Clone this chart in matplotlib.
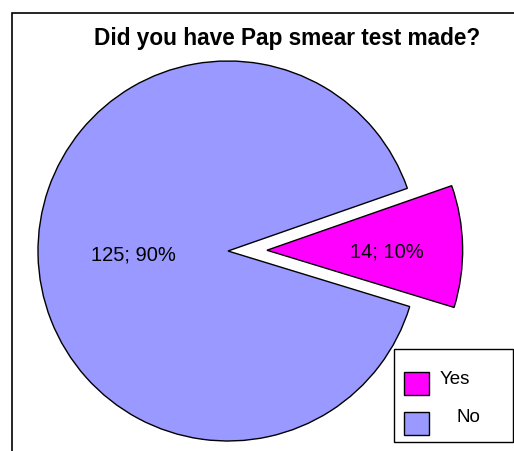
import numpy as np
import matplotlib.pyplot as plt
from matplotlib.patches import Rectangle

plt.rcParams['font.family'] = ['Liberation Sans', 'DejaVu Sans']

# data
categories = ["Yes", "No"]
counts = [14, 125]
percents = [10, 90]
colors = ["#FF00FF", "#9999FF"]
title = "Did you have Pap smear test made?"

W, H = 514, 451
fig = plt.figure(figsize=(W / 100, H / 100), dpi=100)
ax = fig.add_axes([0, 0, 1, 1])


def px(x, y, w=0, h=0):
    # pixel box (top-left origin) -> figure fraction (x0, y0, w, h)
    return x / W, 1 - (y + h) / H, w / W, h / H


R = 190.0
cx, cy = 228.0, H - 251.0
explode = [0.205, 0]
wedges, _ = ax.pie(counts, colors=colors, explode=explode, startangle=-17,
                   counterclock=True, radius=1,
                   wedgeprops=dict(edgecolor="black", linewidth=1.0))
wedges[0].set_radius(1.03)

# labels "n; p%" inside each slice
label_dist = [0.63, 0.5]
label_dy = [-0.02, -0.012]
for w, n, p, e, d, dy in zip(wedges, counts, percents, explode, label_dist, label_dy):
    ang = np.deg2rad((w.theta1 + w.theta2) / 2)
    r = e + d
    ax.text(r * np.cos(ang), r * np.sin(ang) + dy, f"{n}; {p}%",
            ha="center", va="center", fontsize=14.5)

ax.set_xlim(-cx / R, (W - cx) / R)
ax.set_ylim(-cy / R, (H - cy) / R)
ax.set_aspect("auto")
ax.axis("off")

fig.text(287.5 / W, 1 - 38 / H, title, ha="center", va="center",
         fontsize=16.3, fontweight="bold")

# outer frame
fig.patches.append(Rectangle((12 / W, -0.1), 1.2, 1 - 13 / H + 0.1,
                             transform=fig.transFigure, fill=False,
                             edgecolor="black", linewidth=1.2))

# legend box, drawn by hand to match the original layout
x0, y0, w0, h0 = px(394, 349, 119, 93)
fig.patches.append(Rectangle((x0, y0), w0, h0, transform=fig.transFigure,
                             facecolor="white", edgecolor="black",
                             linewidth=1.0, zorder=5))
sq_top = [372, 412]
text_x = [440, 457]
text_y = [379, 418]
for lab, col, st, tx, ty in zip(categories, colors, sq_top, text_x, text_y):
    sx, sy, sw, sh = px(404, st, 25, 23)
    fig.patches.append(Rectangle((sx, sy), sw, sh, transform=fig.transFigure,
                                 facecolor=col, edgecolor="black",
                                 linewidth=1.0, zorder=6))
    fig.text(tx / W, 1 - ty / H, lab, ha="left", va="center",
             fontsize=13.5, zorder=7)

fig.savefig("out.png", dpi=100)
